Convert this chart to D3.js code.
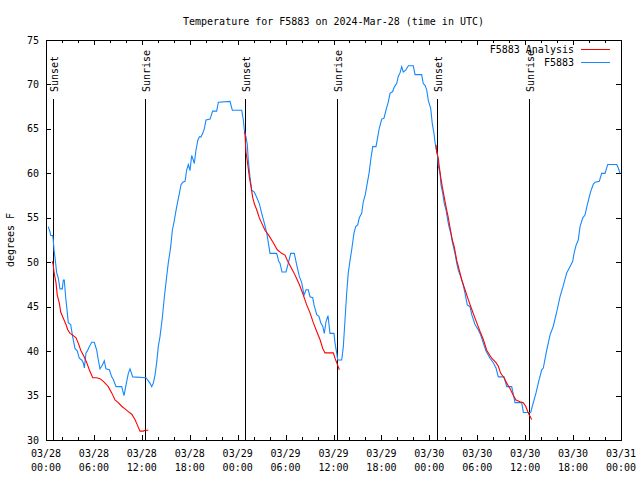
<!DOCTYPE html>
<html>
<head>
<meta charset="utf-8">
<script src="https://cdn.jsdelivr.net/npm/d3@7"></script>
<style>
  html, body { margin: 0; padding: 0; background: #fff; }
  svg text { font-family: "DejaVu Sans Mono", "Liberation Mono", monospace; font-size: 10px; fill: #000; }
</style>
</head>
<body>
<svg id="chart" width="640" height="480"></svg>
<script>
// ---------- DATA (hours since 2024-03-28 00:00 UTC) ----------
const title = "Temperature for F5883 on 2024-Mar-28 (time in UTC)";
const yLabel = "degrees F";
const seriesNames = ["F5883 Analysis", "F5883"];

const obsHours = [0.29,0.50,0.59,0.84,0.91,1.00,1.13,1.34,1.54,1.75,2.04,2.17,2.29,2.47,2.59,2.79,3.09,3.34,3.63,3.92,4.17,4.47,4.67,4.80,5.01,5.17,5.42,5.72,6.05,6.35,6.55,6.76,7.05,7.30,7.51,7.93,8.23,8.43,8.77,9.48,9.77,10.02,10.31,10.52,10.86,12.52,13.02,13.24,13.44,13.65,13.86,14.06,14.27,14.56,14.81,15.11,15.31,15.61,15.82,16.03,16.24,16.44,16.69,16.90,17.12,17.41,17.62,17.82,18.03,18.24,18.44,18.57,18.78,19.00,19.20,19.41,19.62,19.82,20.04,20.54,20.87,21.37,21.58,23.04,23.33,24.51,24.71,24.83,25.04,25.21,25.33,25.54,25.76,26.08,26.38,26.71,27.01,27.34,27.64,27.84,28.05,28.89,29.14,29.30,29.55,30.05,30.34,30.64,31.09,31.39,31.72,32.02,32.31,32.56,32.84,33.06,33.40,33.56,33.90,34.18,34.40,34.65,34.85,35.06,35.31,35.56,36.06,36.19,36.40,36.53,37.03,37.23,37.44,37.65,37.85,38.07,38.28,38.57,38.78,39.03,39.23,39.53,39.73,39.98,40.23,40.45,40.66,40.91,41.32,41.54,41.74,42.04,42.32,42.57,42.86,43.08,43.41,43.61,43.91,44.11,44.33,44.54,44.74,45.04,45.37,45.99,46.21,47.04,47.24,47.46,47.67,47.87,48.17,48.37,48.58,48.71,48.84,49.00,49.12,49.34,49.46,49.67,49.87,50.09,50.25,50.46,50.68,50.88,51.21,51.43,51.63,51.93,52.18,52.47,52.75,53.09,53.31,53.72,54.13,54.43,54.76,55.10,55.60,56.01,56.35,56.64,57.35,57.69,58.31,58.52,58.73,59.57,59.77,60.69,61.02,61.36,61.64,62.07,62.27,62.70,63.11,63.52,63.95,64.36,64.78,65.20,65.61,65.95,66.12,66.37,66.65,66.87,67.21,67.49,67.71,68.12,68.34,68.54,68.75,69.28,69.58,70.00,70.34,71.46,71.66,71.88];
const obsTemps = [54,53.4,53,53,52.5,51.4,50.5,48.8,48.2,47,47,48,48,46,45,43.2,43,41.6,40.3,40,39.2,39,38.7,38.1,39.8,40,40.5,41,41,40.1,39,38,38.4,38.9,38,37.9,37.1,36.8,36,36,35,36.2,37.5,38,37.1,37,36.4,36,36.4,37.3,38.7,40.5,41.6,43.7,46,48.4,49.9,51.7,53.6,54.5,55.6,56.6,57.7,58.7,59,59.1,60.4,61,60.3,62,61.5,61.1,62.6,63.7,64.1,64.1,64.5,65,66,66.1,67,67,68,68.1,67.1,67.1,66,64.9,64.1,63.2,61.5,59.6,58.1,57.9,57.3,56.6,55.5,54.4,53.3,52.2,51,51,50.1,49.9,48.9,48.9,49.9,51,51,49.7,48.4,47.7,46.3,46.9,46.9,46.1,46,45.2,44.1,43.9,43.2,42.8,42,43.3,44,42,42,40.9,39.8,39,39,40.5,43.5,46.5,48.8,50.2,51.4,53.3,54,54.2,55,55.5,56.8,57.6,58.9,60,61.5,63,63,64.1,65.1,66.1,66.2,67.1,68,69,69.2,69.7,70.1,70.9,71.3,72,71.4,71.6,72.1,72.1,71.1,71.1,70.1,69.9,69.4,68.2,67.3,65.6,64.5,63.5,62.8,62.2,60.9,60,58.7,57.8,56.6,55.9,55,54,53.3,52.3,51,49.9,49.1,48.4,47.7,46.5,45.2,45,44.1,43,42.4,41.8,40.9,40,39.2,38.7,38.1,37.1,37.1,36,36,35.1,34.2,34.2,33.1,33.1,34.2,35.3,36.4,37.9,38.1,40.1,41.8,42.8,44.4,46.1,47.4,48.8,49.5,50.1,51,51.9,52.5,54,55,55.3,56.2,57.7,58.3,58.8,59,59.1,60,60,61,61,60.6,60];

const anaHours1 = [0.79,0.91,1.00,1.25,1.41,1.67,1.84,2.17,2.50,2.72,3.01,3.34,3.76,4.04,4.35,4.76,5.10,5.42,5.85,6.35,6.76,7.18,7.51,7.80,8.23,8.64,9.05,9.48,9.89,10.31,10.73,11.14,11.43,11.77,12.18,12.40,12.81];
const anaTemps1 = [50.1,49.7,48.9,47.7,46.3,45.4,44.4,43.7,43,42.4,42,41.8,41.5,40.9,40.1,39.4,38.7,37.9,37,37,36.9,36.6,36.3,36,35.3,34.5,34.2,33.8,33.5,33.2,32.9,32.3,31.7,31,31,31.1,31.1];
const anaHours2 = [24.83,24.92,25.04,25.25,25.46,25.67,25.88,26.08,26.38,26.71,27.01,27.42,27.84,28.46,28.96,29.51,29.93,30.22,30.64,31.05,31.47,31.81,32.22,32.64,33.06,33.47,33.90,34.31,34.65,34.94,35.78,35.98,36.19,36.40,36.73];
const anaTemps2 = [64.7,64.3,62.4,61.1,59.6,58.5,57.3,56.6,55.9,55,54.4,53.6,53.1,52.2,51.4,51,50.8,50.2,49.5,48.8,48,47.3,46.3,45.2,44.3,43.2,42.2,41.3,40.3,39.8,39.8,39.8,39.2,38.7,37.9];
const anaHours3 = [48.84,48.92,49.12,49.25,49.42,49.62,49.87,50.17,50.38,50.59,50.88,51.13,51.43,51.75,52.05,52.47,52.88,53.43,53.93,54.35,54.76,55.18,55.81,56.35,56.64,56.94,57.35,57.69,58.10,58.52,58.85,59.35,59.77,60.07,60.32,60.52,60.82];
const anaTemps3 = [63.2,62.4,61.7,60.7,59.6,58.5,57.3,55.9,55,53.9,52.5,51.7,50.2,49.1,48,46.9,45.8,44.4,43.2,42.2,41.3,40.1,39.2,38.7,38.3,37.5,37,36.4,35.8,35,34.5,34.3,34.2,33.8,33.2,32.8,32.3];

const sunLabels = ["Sunset","Sunrise","Sunset","Sunrise","Sunset","Sunrise"];
const sunHours = [0.91,12.52,24.92,36.56,49.0,60.52];

const yTicks = [30,35,40,45,50,55,60,65,70,75];
// ---------- CHART ----------
const start = Date.UTC(2024,2,28,0,0);
const toDate = h => new Date(start + h*3600e3);

const svg = d3.select("#chart");
const L = 46, R = 621, T = 40, B = 440;
const x = d3.scaleUtc().domain([toDate(0), toDate(72)]).range([L, R]);
const y = d3.scaleLinear().domain([30,75]).range([B, T]);

const blue = "#1488ff", red = "#ff0000";

// title
svg.append("text").attr("x", (L+R)/2).attr("y", 24.5).attr("text-anchor","middle").text(title);

// y label
svg.append("text").attr("transform","translate(13.5,240) rotate(-90)").attr("text-anchor","middle").text(yLabel);

const g = svg.append("g").attr("shape-rendering","crispEdges");

// x axis ticks (major 6h, minor 2h) bottom & top
const majorX = d3.utcHour.every(6).range(toDate(0), toDate(72.01));
const minorX = d3.utcHour.every(2).range(toDate(0), toDate(72.01));
const axB = d3.axisBottom(x).tickValues(majorX).tickSize(-5).tickFormat("");
const axBm = d3.axisBottom(x).tickValues(minorX).tickSize(-3).tickFormat("");
const axT = d3.axisTop(x).tickValues(majorX).tickSize(-5).tickFormat("");
const axTm = d3.axisTop(x).tickValues(minorX).tickSize(-3).tickFormat("");
[ [axB,B],[axBm,B],[axT,T],[axTm,T] ].forEach(([a,pos]) => {
  const s = g.append("g").attr("transform",`translate(0,${pos})`).call(a);
  s.select(".domain").remove();
  s.selectAll("line").attr("stroke","#000");
});
const axL = d3.axisLeft(y).tickValues(yTicks).tickSize(-5).tickFormat("");
const axR = d3.axisRight(y).tickValues(yTicks).tickSize(-5).tickFormat("");
[[axL,L],[axR,R]].forEach(([a,pos]) => {
  const s = g.append("g").attr("transform",`translate(${pos},0)`).call(a);
  s.select(".domain").remove();
  s.selectAll("line").attr("stroke","#000");
});

// tick labels
const fmtD = d3.utcFormat("%m/%d"), fmtH = d3.utcFormat("%H:%M");
const xl = svg.append("g").selectAll("text").data(majorX).join("text")
  .attr("x", d => x(d)).attr("text-anchor","middle");
xl.append("tspan").attr("x", d => x(d)).attr("y", 457).text(d => fmtD(d));
xl.append("tspan").attr("x", d => x(d)).attr("y", 471).text(d => fmtH(d));

svg.append("g").selectAll("text").data(yTicks).join("text")
  .attr("x", L - 7).attr("y", d => y(d) + 3.5).attr("text-anchor","end").text(d => d);

// sunrise / sunset lines
g.append("g").selectAll("line").data(sunHours).join("line")
  .attr("x1", d => x(toDate(d))).attr("x2", d => x(toDate(d)))
  .attr("y1", 99).attr("y2", B).attr("stroke","#000");
svg.append("g").selectAll("text").data(sunHours).join("text")
  .attr("transform", d => `translate(${x(toDate(d)) + 4.5},92) rotate(-90)`)
  .attr("text-anchor","start")
  .text((d,i) => sunLabels[i]);

// data lines
const line = d3.line().x(d => x(toDate(d[0]))).y(d => y(d[1]));
const zip = (a,b) => a.map((v,i) => [v,b[i]]);
const dg = svg.append("g").attr("clip-path","url(#clip)");
svg.append("clipPath").attr("id","clip").append("rect").attr("x",L).attr("y",T).attr("width",R-L).attr("height",B-T);
dg.append("path").datum(zip(obsHours, obsTemps)).attr("d", line)
  .attr("fill","none").attr("stroke", blue).attr("stroke-width",1.1);
[[anaHours1,anaTemps1],[anaHours2,anaTemps2],[anaHours3,anaTemps3]].forEach(([h,t]) => {
  dg.append("path").datum(zip(h,t)).attr("d", line)
    .attr("fill","none").attr("stroke", red).attr("stroke-width",1.1);
});

// border
g.append("rect").attr("x",L).attr("y",T).attr("width",R-L).attr("height",B-T)
  .attr("fill","none").attr("stroke","#000");

// legend
const leg = svg.append("g");
const legY = [49.5, 62.5], legC = [red, blue];
seriesNames.forEach((n,i) => {
  leg.append("text").attr("x",574).attr("y",legY[i]+3.5).attr("text-anchor","end").text(n);
  leg.append("line").attr("x1",581).attr("x2",610).attr("y1",legY[i]).attr("y2",legY[i])
    .attr("stroke",legC[i]).attr("shape-rendering","crispEdges");
});
</script>
</body>
</html>
